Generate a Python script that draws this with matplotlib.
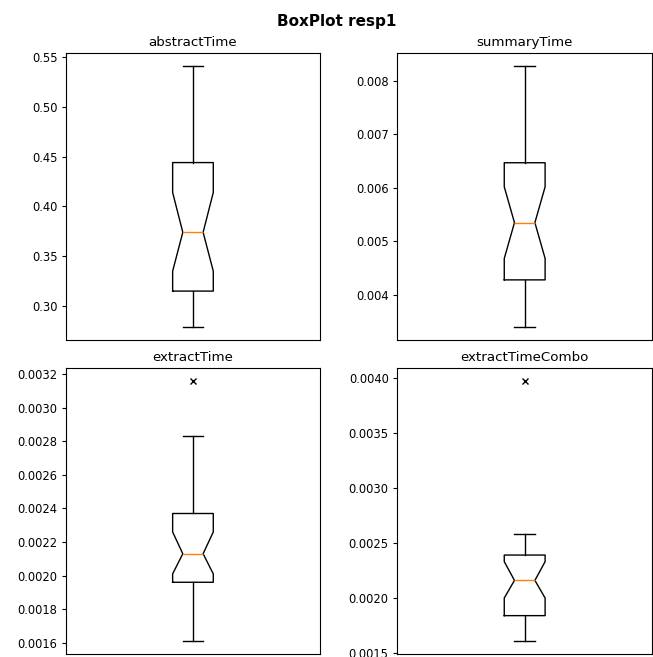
import matplotlib
matplotlib.use("Agg")
import matplotlib.pyplot as plt

# box statistics
names = ["abstractTime", "summaryTime", "extractTime", "extractTimeCombo"]
whislo = [0.279, 0.00340, 0.00161, 0.00161]
q1 = [0.315, 0.00428, 0.00196, 0.00184]
med = [0.374, 0.00535, 0.00213, 0.00216]
q3 = [0.444, 0.00647, 0.00237, 0.00239]
whishi = [0.541, 0.00828, 0.00283, 0.00258]
cilo = [0.335, 0.00468, 0.00201, 0.00200]
cihi = [0.414, 0.00602, 0.00226, 0.00233]
fliers = [[], [], [0.00316], [0.00397]]

fig = plt.figure(figsize=(6.53, 6.57), dpi=100)
fig.suptitle("BoxPlot resp1", fontweight="bold", fontsize=11, x=0.516, y=0.979)

rects = [[0.101, 0.4825, 0.389, 0.437],
         [0.608, 0.4825, 0.391, 0.437],
         [0.101, 0.0046, 0.389, 0.4353],
         [0.608, 0.0046, 0.391, 0.4353]]

for i, name in enumerate(names):
    ax = fig.add_axes(rects[i])
    stats = [dict(med=med[i], q1=q1[i], q3=q3[i], whislo=whislo[i],
                  whishi=whishi[i], cilo=cilo[i], cihi=cihi[i],
                  fliers=fliers[i])]
    ax.bxp(stats, shownotches=True, widths=0.16,
           flierprops=dict(marker="x", markeredgecolor="black", markersize=5))
    ax.set_title(name, fontsize=9.6, pad=5)
    ax.set_xticks([])
    ax.tick_params(axis="y", labelsize=8.3, length=3, pad=3)

fig.savefig("out.png", dpi=100)
